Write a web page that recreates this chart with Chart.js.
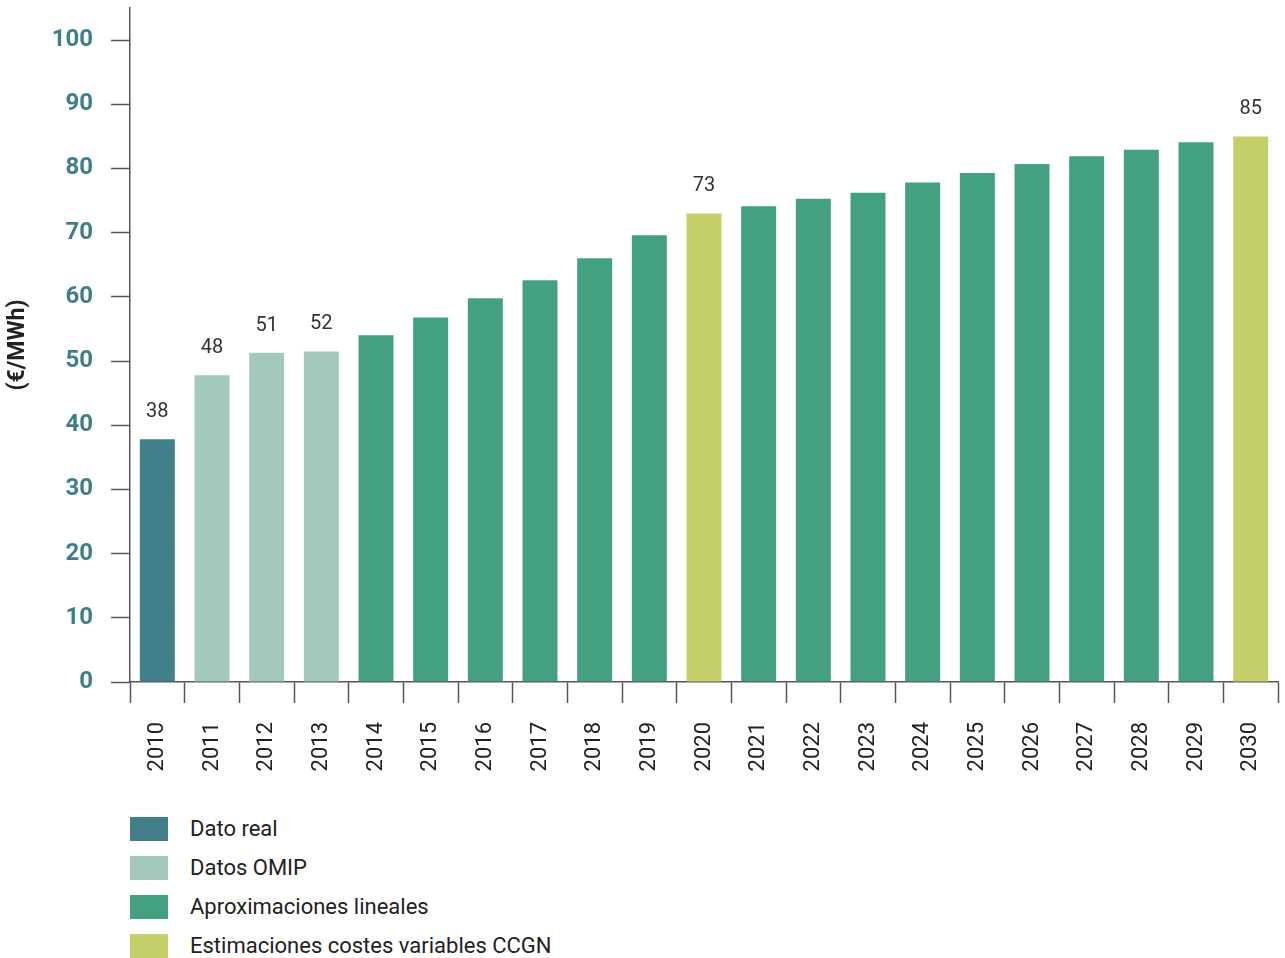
<!DOCTYPE html>
<html>
<head>
<meta charset="utf-8">
<script src="https://cdn.jsdelivr.net/npm/chart.js@4.4.1/dist/chart.umd.min.js"></script>
<style>
  html, body { margin:0; padding:0; background:#fff; }
  #wrap { position:relative; width:1285px; height:780px; }
  #legend { position:absolute; left:130px; top:809px; font-family:Roboto, sans-serif; font-size:22px; color:#222; }
  #legend .row { display:flex; align-items:center; height:39px; }
  #legend .sw { width:38px; height:24px; margin-right:22px; }
</style>
</head>
<body>
<div id="wrap"><canvas id="c"></canvas></div>
<div id="legend"></div>
<script>
// €/MWh per year
const years = ['2010','2011','2012','2013','2014','2015','2016','2017','2018','2019','2020',
               '2021','2022','2023','2024','2025','2026','2027','2028','2029','2030'];
const prices = [37.8, 47.8, 51.3, 51.5, 54.0, 56.8, 59.8, 62.6, 66.0, 69.6, 73.0,
                74.1, 75.3, 76.2, 77.8, 79.3, 80.7, 81.9, 82.9, 84.1, 85.0];
// which series each year belongs to (index into seriesNames)
const seriesOfYear = [0, 1, 1, 1, 2, 2, 2, 2, 2, 2, 3, 2, 2, 2, 2, 2, 2, 2, 2, 2, 3];
const seriesNames = ['Dato real', 'Datos OMIP', 'Aproximaciones lineales', 'Estimaciones costes variables CCGN'];
const seriesColors = ['#417f8b', '#a3c9bb', '#43a083', '#c4cf6a'];
const labelledYears = ['2010','2011','2012','2013','2020','2030'];
const yTicks = [0, 10, 20, 30, 40, 50, 60, 70, 80, 90, 100];

const datasets = seriesNames.map((name, s) => ({
  label: name,
  data: prices.map((v, i) => seriesOfYear[i] === s ? v : null),
  backgroundColor: seriesColors[s],
  barPercentage: 0.64,
  categoryPercentage: 1
}));

// value labels above selected bars
const valueLabels = {
  id: 'valueLabels',
  afterDatasetsDraw(chart) {
    const ctx = chart.ctx;
    ctx.save();
    ctx.font = '20px Roboto, sans-serif';
    ctx.fillStyle = '#333';
    ctx.textAlign = 'center';
    ctx.textBaseline = 'middle';
    chart.data.datasets.forEach((ds, di) => {
      chart.getDatasetMeta(di).data.forEach((bar, i) => {
        if (ds.data[i] == null || !labelledYears.includes(years[i])) return;
        ctx.fillText(Math.round(ds.data[i]), bar.x, bar.y - 27);
      });
    });
    ctx.restore();
  }
};

new Chart(document.getElementById('c'), {
  type: 'bar',
  data: { labels: years, datasets },
  plugins: [valueLabels],
  options: {
    responsive: true,
    maintainAspectRatio: false,
    animation: false,
    layout: { padding: { top: 8, right: 7, left: 0, bottom: 0 } },
    plugins: { legend: { display: false }, tooltip: { enabled: false } },
    scales: {
      x: {
        stacked: true,
        afterFit: axis => { axis.height = 98; axis.paddingLeft = 0; axis.paddingRight = 0; },
        grid: { offset: true, drawOnChartArea: false, tickLength: 21, color: '#555', tickWidth: 1.5 },
        border: { color: '#555', width: 1.5 },
        ticks: { color: '#222', font: { family: 'Roboto', size: 22 }, minRotation: 90, maxRotation: 90, padding: 19 }
      },
      y: {
        stacked: true,
        min: 0, max: 105,
        afterBuildTicks: axis => { axis.ticks = yTicks.map(v => ({ value: v })); },
        afterFit: axis => { axis.width = 130; axis.paddingTop = 0; axis.paddingBottom = 0; },
        grid: { drawOnChartArea: false, tickLength: 19, color: '#555', tickWidth: 1.5 },
        border: { color: '#555', width: 1.5 },
        ticks: { color: '#3f7f8a', font: { family: 'Roboto', size: 24, weight: 'bold' }, padding: 18 },
        title: { display: true, text: '(€/MWh)', color: '#222', font: { family: 'Roboto', size: 23, weight: 'bold' }, padding: { top: 4, bottom: 4 } }
      }
    }
  }
});

// legend drawn as plain HTML, one row per series
const legend = document.getElementById('legend');
seriesNames.forEach((name, s) => {
  const row = document.createElement('div'); row.className = 'row';
  const sw = document.createElement('div'); sw.className = 'sw'; sw.style.background = seriesColors[s];
  const t = document.createElement('span'); t.textContent = name;
  row.appendChild(sw); row.appendChild(t); legend.appendChild(row);
});
</script>
</body>
</html>
